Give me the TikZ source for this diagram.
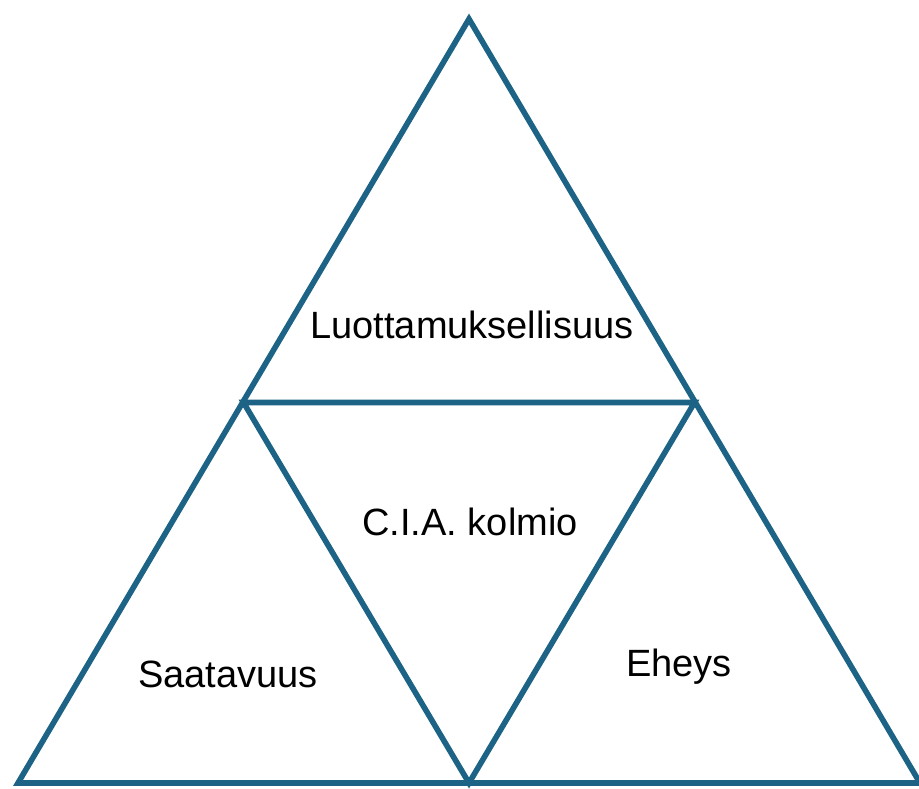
\documentclass[tikz,border=0pt]{standalone}
\usepackage{fontspec}
\setmainfont{Liberation Sans}
\definecolor{edge}{RGB}{28,99,134}
\begin{document}
\begin{tikzpicture}[x=1pt,y=-1pt,
  side/.style={draw=edge,line width=5.6pt,line join=miter},
  lbl/.style={font=\fontsize{38}{44}\selectfont,text=black,inner sep=0pt}]
\useasboundingbox (0,0) rectangle (919,788);
\coordinate (A) at (469,19);
\coordinate (L) at (18,783);
\coordinate (R) at (920,783);
\coordinate (ML) at (243.5,402.5);
\coordinate (MR) at (694.5,402.5);
\coordinate (MB) at (469,783);
\draw[side] (A) -- (L) -- (R) -- cycle;
\draw[side] (ML) -- (MR) -- (MB) -- cycle;
\node[lbl] (t1) at (472,325) {Luottamuksellisuus};
\node[lbl] (t2) at (470,522) {C.I.A. kolmio};
\node[lbl] (t3) at (228,674) {Saatavuus};
\node[lbl] (t4) at (679,667) {Eheys};
\end{tikzpicture}
\end{document}
